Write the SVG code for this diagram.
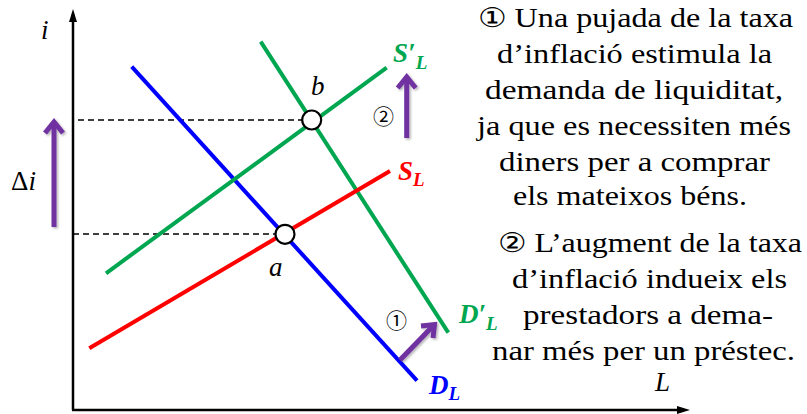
<svg xmlns="http://www.w3.org/2000/svg" width="807" height="414" viewBox="0 0 807 414">
<style>
.ax{stroke:#000;stroke-width:2.5;fill:none}
.dash{stroke:#000;stroke-width:1.3;stroke-dasharray:6,4;fill:none}
.curve{stroke-width:4;fill:none;stroke-linecap:butt}
.pa{stroke:#7030A0;stroke-width:5;fill:none;stroke-linejoin:miter}
.pt{fill:#fff;stroke:#000;stroke-width:2.2}
.lab{font-family:"Liberation Serif",serif;font-style:italic;font-size:27px;fill:#000}
.cl{font-family:"Liberation Serif",serif;font-style:italic;font-weight:bold;font-size:27px}
.sub{font-size:19px}
.num{font-family:"Noto Sans CJK SC",sans-serif;font-size:21px;fill:#000}
.txt{font-family:"Liberation Serif",serif;font-size:27px;fill:#000}
</style>
<defs>
<filter id="sh" filterUnits="userSpaceOnUse" x="0" y="0" width="807" height="414">
<feDropShadow dx="1.5" dy="1.5" stdDeviation="1.2" flood-color="#000" flood-opacity="0.3"/>
</filter>
</defs>
<g id="axes">
<line class="ax" x1="73" y1="410" x2="73" y2="18"/>
<polygon points="73,9 69,22 77,22" fill="#000"/>
<line class="ax" x1="72" y1="410" x2="680" y2="410"/>
<polygon points="690,410 677,406 677,414" fill="#000"/>
<text class="lab" x="41" y="39">i</text>
<text class="lab" x="655" y="391">L</text>
<text class="lab" x="11" y="190" style="font-style:normal">Δ<tspan style="font-style:italic">i</tspan></text>
</g>
<g id="connectors">
<line class="dash" x1="78" y1="120" x2="303" y2="120"/>
<line class="dash" x1="73" y1="234" x2="276" y2="234"/>
</g>
<g id="DL">
<line class="curve" stroke="#0000FF" x1="131.7" y1="66.7" x2="417" y2="380.7"/>
<text class="cl" fill="#0000FF" x="429" y="394">D<tspan class="sub" dy="6">L</tspan></text>
</g>
<g id="DpL">
<line class="curve" stroke="#00A650" x1="260.7" y1="41.7" x2="448.3" y2="332.7"/>
<text class="cl" fill="#00A650" x="459" y="323">D′<tspan class="sub" dy="7">L</tspan></text>
</g>
<g id="SL">
<line class="curve" stroke="#FF0000" x1="89.3" y1="348.3" x2="390" y2="171"/>
<text class="cl" fill="#FF0000" x="398" y="180">S<tspan class="sub" dy="6">L</tspan></text>
</g>
<g id="SpL">
<line class="curve" stroke="#00A650" x1="106" y1="273.3" x2="386.7" y2="67.7"/>
<text class="cl" fill="#00A650" x="393" y="62">S′<tspan class="sub" dy="7">L</tspan></text>
</g>
<g id="point-b">
<circle class="pt" cx="311.7" cy="120" r="9.5"/>
<text class="lab" x="311" y="95">b</text>
</g>
<g id="point-a">
<circle class="pt" cx="285" cy="234.3" r="9.5"/>
<text class="lab" x="269" y="276">a</text>
</g>
<g id="arrow-di" filter="url(#sh)">
<line class="pa" x1="54" y1="227" x2="54" y2="123"/>
<polyline class="pa" points="45,133 54,122 63,133"/>
</g>
<g id="arrow-2" filter="url(#sh)">
<line class="pa" x1="406.7" y1="138" x2="406.7" y2="78"/>
<polyline class="pa" points="397.7,88 406.7,77 415.7,88"/>
</g>
<text class="num" x="373" y="124">②</text>
<g id="arrow-1" filter="url(#sh)">
<line class="pa" x1="400" y1="360" x2="433" y2="326"/>
<polyline class="pa" points="421,326 434.5,324.5 433,338"/>
</g>
<text class="num" x="386" y="328">①</text>
<g id="text1">
<text class="txt" x="478" y="27" textLength="315" lengthAdjust="spacingAndGlyphs">① Una pujada de la taxa</text>
<text class="txt" x="497" y="63" textLength="275" lengthAdjust="spacingAndGlyphs">d’inflació estimula la</text>
<text class="txt" x="485" y="99" textLength="298" lengthAdjust="spacingAndGlyphs">demanda de liquiditat,</text>
<text class="txt" x="477" y="135" textLength="314" lengthAdjust="spacingAndGlyphs">ja que es necessiten més</text>
<text class="txt" x="499" y="171" textLength="271" lengthAdjust="spacingAndGlyphs">diners per a comprar</text>
<text class="txt" x="513" y="205" textLength="234" lengthAdjust="spacingAndGlyphs">els mateixos béns.</text>
</g>
<g id="text2">
<text class="txt" x="498" y="252" textLength="304" lengthAdjust="spacingAndGlyphs">② L’augment de la taxa</text>
<text class="txt" x="512" y="288" textLength="275" lengthAdjust="spacingAndGlyphs">d’inflació indueix els</text>
<text class="txt" x="523" y="324" textLength="250" lengthAdjust="spacingAndGlyphs">prestadors a dema-</text>
<text class="txt" x="492" y="360" textLength="303" lengthAdjust="spacingAndGlyphs">nar més per un préstec.</text>
</g>
</svg>
